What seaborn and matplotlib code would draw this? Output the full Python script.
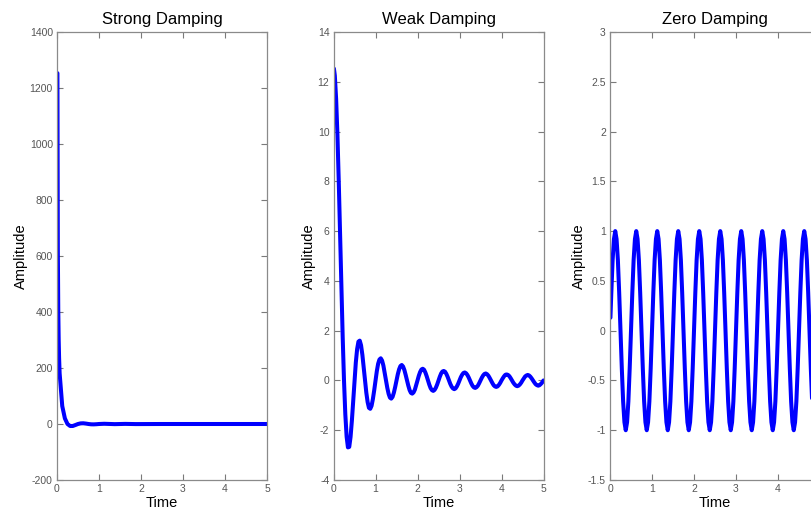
import matplotlib
matplotlib.use("Agg")
import matplotlib.pyplot as plt
import seaborn as sns
from matplotlib.ticker import FuncFormatter

# ---------------- data ----------------
time = [0.01,
        0.03125, 0.0625, 0.09375, 0.125, 0.15625, 0.1875, 0.21875, 0.25,
        0.28125, 0.3125, 0.34375, 0.375, 0.40625, 0.4375, 0.46875, 0.5,
        0.53125, 0.5625, 0.59375, 0.625, 0.65625, 0.6875, 0.71875, 0.75,
        0.78125, 0.8125, 0.84375, 0.875, 0.90625, 0.9375, 0.96875, 1.0,
        1.03125, 1.0625, 1.09375, 1.125, 1.15625, 1.1875, 1.21875, 1.25,
        1.28125, 1.3125, 1.34375, 1.375, 1.40625, 1.4375, 1.46875, 1.5,
        1.53125, 1.5625, 1.59375, 1.625, 1.65625, 1.6875, 1.71875, 1.75,
        1.78125, 1.8125, 1.84375, 1.875, 1.90625, 1.9375, 1.96875, 2.0,
        2.03125, 2.0625, 2.09375, 2.125, 2.15625, 2.1875, 2.21875, 2.25,
        2.28125, 2.3125, 2.34375, 2.375, 2.40625, 2.4375, 2.46875, 2.5,
        2.53125, 2.5625, 2.59375, 2.625, 2.65625, 2.6875, 2.71875, 2.75,
        2.78125, 2.8125, 2.84375, 2.875, 2.90625, 2.9375, 2.96875, 3.0,
        3.03125, 3.0625, 3.09375, 3.125, 3.15625, 3.1875, 3.21875, 3.25,
        3.28125, 3.3125, 3.34375, 3.375, 3.40625, 3.4375, 3.46875, 3.5,
        3.53125, 3.5625, 3.59375, 3.625, 3.65625, 3.6875, 3.71875, 3.75,
        3.78125, 3.8125, 3.84375, 3.875, 3.90625, 3.9375, 3.96875, 4.0,
        4.03125, 4.0625, 4.09375, 4.125, 4.15625, 4.1875, 4.21875, 4.25,
        4.28125, 4.3125, 4.34375, 4.375, 4.40625, 4.4375, 4.46875, 4.5,
        4.53125, 4.5625, 4.59375, 4.625, 4.65625, 4.6875, 4.71875, 4.75,
        4.78125, 4.8125, 4.84375, 4.875, 4.90625, 4.9375, 4.96875, 5.0]

strong_time = [0.01, 0.02, 0.03, 0.04, 0.05, 0.0625, 0.125, 0.1875, 0.25,
               0.3125, 0.375, 0.4375, 0.5, 0.5625, 0.625, 0.6875, 0.75,
               0.8125, 0.875, 0.9375, 1.0, 1.125, 1.375, 1.625, 1.875,
               2.5, 3.0, 4.0, 5.0]
strong_amp = [1253, 622, 409, 301, 235, 181, 64, 20.1, 0,
              -7.2, -7.1, -3.7, 0, 2.2, 2.6, 1.5, 0,
              -1.1, -1.3, -0.8, 0, 0.8, -0.5, 0.4, -0.3,
              0, 0, 0, 0]

weak_amp = [12.53,
            12.25, 11.31, 9.86, 8.0, 5.91, 3.77, 1.75, 0,
            -1.36, -2.26, -2.69, -2.67, -2.27, -1.62, -0.82, 0,
            0.72, 1.26, 1.56, 1.60, 1.41, 1.03, 0.53, 0,
            -0.49, -0.87, -1.10, -1.14, -1.02, -0.75, -0.40, 0,
            0.37, 0.67, 0.84, 0.89, 0.80, 0.60, 0.31, 0,
            -0.30, -0.54, -0.69, -0.73, -0.66, -0.49, -0.26, 0,
            0.25, 0.45, 0.58, 0.62, 0.56, 0.42, 0.22, 0,
            -0.21, -0.39, -0.50, -0.53, -0.48, -0.37, -0.19, 0,
            0.19, 0.34, 0.44, 0.47, 0.43, 0.32, 0.17, 0,
            -0.17, -0.31, -0.39, -0.42, -0.38, -0.29, -0.16, 0,
            0.15, 0.28, 0.36, 0.38, 0.35, 0.26, 0.14, 0,
            -0.14, -0.25, -0.32, -0.35, -0.32, -0.24, -0.13, 0,
            0.13, 0.23, 0.30, 0.32, 0.29, 0.22, 0.12, 0,
            -0.12, -0.22, -0.28, -0.30, -0.27, -0.21, -0.11, 0,
            0.11, 0.20, 0.26, 0.28, 0.25, 0.19, 0.10, 0,
            -0.10, -0.19, -0.24, -0.26, -0.24, -0.18, -0.10, 0,
            0.09, 0.17, 0.23, 0.24, 0.22, 0.17, 0.09, 0,
            -0.09, -0.16, -0.21, -0.23, -0.21, -0.16, -0.09, 0,
            0.08, 0.16, 0.20, 0.22, 0.20, 0.15, 0.08, 0,
            -0.08, -0.15, -0.19, -0.21, -0.19, -0.14, -0.08, 0]

zero_amp = [0.13,
            0.38, 0.71, 0.92, 1.0, 0.92, 0.71, 0.38, 0, -0.38, -0.71, -0.92, -1.0, -0.92, -0.71, -0.38, 0,
            0.38, 0.71, 0.92, 1.0, 0.92, 0.71, 0.38, 0, -0.38, -0.71, -0.92, -1.0, -0.92, -0.71, -0.38, 0,
            0.38, 0.71, 0.92, 1.0, 0.92, 0.71, 0.38, 0, -0.38, -0.71, -0.92, -1.0, -0.92, -0.71, -0.38, 0,
            0.38, 0.71, 0.92, 1.0, 0.92, 0.71, 0.38, 0, -0.38, -0.71, -0.92, -1.0, -0.92, -0.71, -0.38, 0,
            0.38, 0.71, 0.92, 1.0, 0.92, 0.71, 0.38, 0, -0.38, -0.71, -0.92, -1.0, -0.92, -0.71, -0.38, 0,
            0.38, 0.71, 0.92, 1.0, 0.92, 0.71, 0.38, 0, -0.38, -0.71, -0.92, -1.0, -0.92, -0.71, -0.38, 0,
            0.38, 0.71, 0.92, 1.0, 0.92, 0.71, 0.38, 0, -0.38, -0.71, -0.92, -1.0, -0.92, -0.71, -0.38, 0,
            0.38, 0.71, 0.92, 1.0, 0.92, 0.71, 0.38, 0, -0.38, -0.71, -0.92, -1.0, -0.92, -0.71, -0.38, 0,
            0.38, 0.71, 0.92, 1.0, 0.92, 0.71, 0.38, 0, -0.38, -0.71, -0.92, -1.0, -0.92, -0.71, -0.38, 0,
            0.38, 0.71, 0.92, 1.0, 0.92, 0.71, 0.38, 0, -0.38, -0.71, -0.92, -1.0, -0.92, -0.71, -0.38, 0]

titles = ["Strong Damping", "Weak Damping", "Zero Damping"]
x_ticks = [0, 1, 2, 3, 4, 5]
y_ticks_strong = [-200, 0, 200, 400, 600, 800, 1000, 1200, 1400]
y_ticks_weak = [-4, -2, 0, 2, 4, 6, 8, 10, 12, 14]
y_ticks_zero = [-1.5, -1, -0.5, 0, 0.5, 1, 1.5, 2, 2.5, 3]

# ---------------- style ----------------
sns.set_style("white")
plt.rcParams["font.family"] = ["Liberation Sans", "DejaVu Sans"]
plt.rcParams["axes.unicode_minus"] = False

fig = plt.figure(figsize=(8.11, 5.12), dpi=100)
fig.patch.set_facecolor("white")

lefts = [57 / 811, 333.5 / 811, 610 / 811]
bottom = 32 / 512
width = 210 / 811
height = 448 / 512

series = [(strong_time, strong_amp, y_ticks_strong),
          (time, weak_amp, y_ticks_weak),
          (time, zero_amp, y_ticks_zero)]

fmt = FuncFormatter(lambda v, p: "%g" % v)

for left, title, (tx, ty, yt) in zip(lefts, titles, series):
    ax = fig.add_axes([left, bottom, width, height])
    sns.lineplot(x=tx, y=ty, ax=ax, color="#0000ff", linewidth=2.9,
                 estimator=None, sort=False)
    for ln in ax.get_lines():
        ln.set_solid_joinstyle("round")
        ln.set_solid_capstyle("round")
    ax.set_xlim(0, 5)
    ax.set_ylim(yt[0], yt[-1])
    ax.set_xticks(x_ticks)
    ax.set_yticks(yt)
    ax.xaxis.set_major_formatter(fmt)
    ax.yaxis.set_major_formatter(fmt)
    ax.tick_params(direction="in", length=4, width=0.8, color="#7a7a7a",
                   labelsize=7.5, labelcolor="#555555",
                   top=True, right=True, bottom=True, left=True, pad=3)
    for sp in ax.spines.values():
        sp.set_visible(True)
        sp.set_color("#8a8a8a")
        sp.set_linewidth(0.9)
    ax.set_title(title, fontsize=12, color="black", pad=6)
    ax.set_xlabel("Time", fontsize=10.5, color="black", labelpad=1)
    ax.set_ylabel("Amplitude", fontsize=10.5, color="black", labelpad=1)

fig.savefig("out.png", dpi=100, facecolor="white")
